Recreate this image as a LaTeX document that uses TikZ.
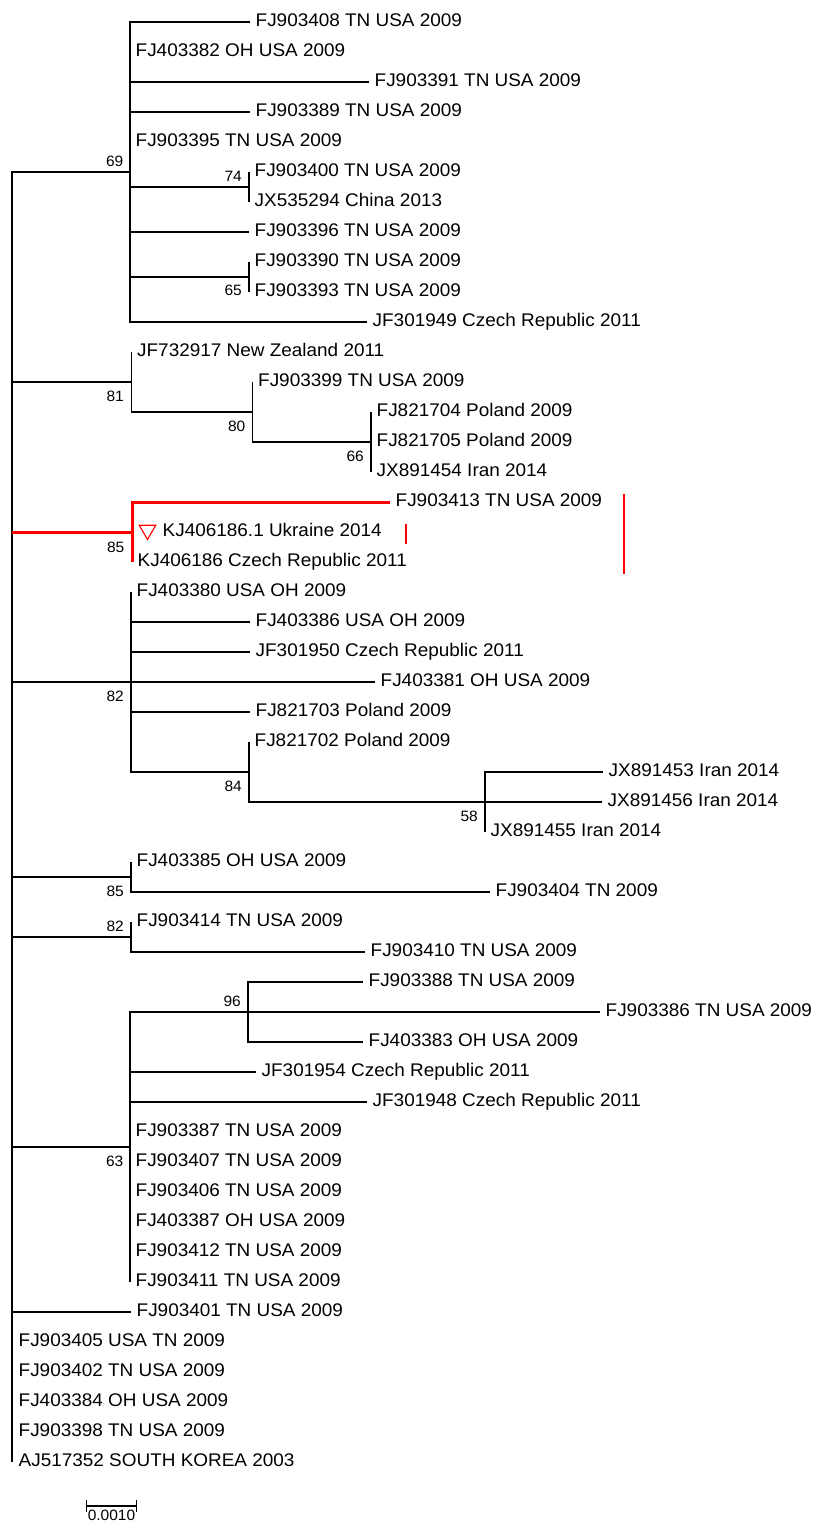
\documentclass[tikz,border=0pt]{standalone}
\usepackage{fontspec}
\setmainfont[FakeStretch=1.035]{Liberation Sans}
\usepackage{tikz}
\usetikzlibrary{shapes.geometric, arrows.meta}

\begin{document}
\begin{tikzpicture}[
        x=1pt, y=-1pt,
        taxon/.style={anchor=west, inner xsep=5.5pt, inner ysep=0pt, text height=13pt, text depth=4pt, font=\fontsize{18.3}{20}\selectfont},
        boot/.style={anchor=east, inner sep=0pt, font=\fontsize{15}{17}\selectfont},
        branch/.style={line width=1.1pt, black},
        hit/.style={line width=3pt, red},
        tick/.style={line width=1.6pt, red}
    ]
        \useasboundingbox (0,0) rectangle (812,1524);

        % Internal nodes
        \coordinate (root) at (12,817);
        \coordinate (b69) at (130,172);
        \coordinate (b74) at (249,187);
        \coordinate (b65) at (249,277);
        \coordinate (b81) at (131.5,382);
        \coordinate (b80) at (252.5,412);
        \coordinate (b66) at (371,442);
        \coordinate (b85r) at (132,532);
        \coordinate (b82) at (131,682);
        \coordinate (b84) at (249,772);
        \coordinate (b58) at (485,802);
        \coordinate (b85b) at (131,877);
        \coordinate (b82b) at (131,937);
        \coordinate (b63) at (130,1147);
        \coordinate (b96) at (248,1012);

        % Taxa
        \node[taxon] (fj903408) at (250,22) {FJ903408 TN USA 2009};
        \node[taxon] (fj403382) at (130,52) {FJ403382 OH USA 2009};
        \node[taxon] (fj903391) at (369,82) {FJ903391 TN USA 2009};
        \node[taxon] (fj903389) at (250,112) {FJ903389 TN USA 2009};
        \node[taxon] (fj903395) at (130,142) {FJ903395 TN USA 2009};
        \node[taxon] (fj903400) at (249,172) {FJ903400 TN USA 2009};
        \node[taxon] (jx535294) at (249,202) {JX535294 China 2013};
        \node[taxon] (fj903396) at (249,232) {FJ903396 TN USA 2009};
        \node[taxon] (fj903390) at (249,262) {FJ903390 TN USA 2009};
        \node[taxon] (fj903393) at (249,292) {FJ903393 TN USA 2009};
        \node[taxon] (jf301949) at (367,322) {JF301949 Czech Republic 2011};
        \node[taxon] (jf732917) at (131.5,352) {JF732917 New Zealand 2011};
        \node[taxon] (fj903399) at (252.5,382) {FJ903399 TN USA 2009};
        \node[taxon] (fj821704) at (371,412) {FJ821704 Poland 2009};
        \node[taxon] (fj821705) at (371,442) {FJ821705 Poland 2009};
        \node[taxon] (jx891454) at (371,472) {JX891454 Iran 2014};
        \node[taxon] (fj903413) at (390,502) {FJ903413 TN USA 2009};
        \node[taxon] (kj406186ua) at (157,532) {KJ406186.1 Ukraine 2014};
        \node[taxon] (kj406186cz) at (132,562) {KJ406186 Czech Republic 2011};
        \node[taxon] (fj403380) at (131,592) {FJ403380 USA OH 2009};
        \node[taxon] (fj403386) at (250,622) {FJ403386 USA OH 2009};
        \node[taxon] (jf301950) at (250,652) {JF301950 Czech Republic 2011};
        \node[taxon] (fj403381) at (375,682) {FJ403381 OH USA 2009};
        \node[taxon] (fj821703) at (250,712) {FJ821703 Poland 2009};
        \node[taxon] (fj821702) at (249,742) {FJ821702 Poland 2009};
        \node[taxon] (jx891453) at (603,772) {JX891453 Iran 2014};
        \node[taxon] (jx891456) at (602,802) {JX891456 Iran 2014};
        \node[taxon] (jx891455) at (485,832) {JX891455 Iran 2014};
        \node[taxon] (fj403385) at (131,862) {FJ403385 OH USA 2009};
        \node[taxon] (fj903404) at (490,892) {FJ903404 TN 2009};
        \node[taxon] (fj903414) at (131,922) {FJ903414 TN USA 2009};
        \node[taxon] (fj903410) at (365,952) {FJ903410 TN USA 2009};
        \node[taxon] (fj903388) at (363,982) {FJ903388 TN USA 2009};
        \node[taxon] (fj903386) at (600,1012) {FJ903386 TN USA 2009};
        \node[taxon] (fj403383) at (363,1042) {FJ403383 OH USA 2009};
        \node[taxon] (jf301954) at (256,1072) {JF301954 Czech Republic 2011};
        \node[taxon] (jf301948) at (367,1102) {JF301948 Czech Republic 2011};
        \node[taxon] (fj903387) at (130,1132) {FJ903387 TN USA 2009};
        \node[taxon] (fj903407) at (130,1162) {FJ903407 TN USA 2009};
        \node[taxon] (fj903406) at (130,1192) {FJ903406 TN USA 2009};
        \node[taxon] (fj403387) at (130,1222) {FJ403387 OH USA 2009};
        \node[taxon] (fj903412) at (130,1252) {FJ903412 TN USA 2009};
        \node[taxon] (fj903411) at (130,1282) {FJ903411 TN USA 2009};
        \node[taxon] (fj903401) at (131,1312) {FJ903401 TN USA 2009};
        \node[taxon] (fj903405) at (13,1342) {FJ903405 USA TN 2009};
        \node[taxon] (fj903402) at (13,1372) {FJ903402 TN USA 2009};
        \node[taxon] (fj403384) at (13,1402) {FJ403384 OH USA 2009};
        \node[taxon] (fj903398) at (13,1432) {FJ903398 TN USA 2009};
        \node[taxon] (aj517352) at (13,1462) {AJ517352 SOUTH KOREA 2003};

        % Bootstrap values
        \node[boot] (bs69) at (123.5,161) {69};
        \node[boot] (bs74) at (242,176) {74};
        \node[boot] (bs65) at (242,290) {65};
        \node[boot] (bs81) at (124,396) {81};
        \node[boot] (bs80) at (245.5,426) {80};
        \node[boot] (bs66) at (364,456) {66};
        \node[boot] (bs85r) at (124.5,547) {85};
        \node[boot] (bs82) at (124,696) {82};
        \node[boot] (bs84) at (242,786) {84};
        \node[boot] (bs58) at (478,816) {58};
        \node[boot] (bs85b) at (124,891) {85};
        \node[boot] (bs82b) at (124,926) {82};
        \node[boot] (bs96) at (241,1001) {96};
        \node[boot] (bs63) at (123.5,1161) {63};

        % Branches
        \draw[branch] (root) |- (b69);
        \draw[branch] (root) |- (b81);
        \draw[branch] (root) |- (b82);
        \draw[branch] (root) |- (b85b);
        \draw[branch] (root) |- (b82b);
        \draw[branch] (root) |- (b63);
        \draw[branch] (root) |- (fj903401.west);
        \draw[branch] (root) |- (aj517352.west -| root);

        \draw[branch] (b69) |- (fj903408.west);
        \draw[branch] (b69) |- (fj903391.west);
        \draw[branch] (b69) |- (fj903389.west);
        \draw[branch] (b69) |- (b74);
        \draw[branch] (b69) |- (fj903396.west);
        \draw[branch] (b69) |- (b65);
        \draw[branch] (b69) |- (jf301949.west);
        \draw[branch] (b74) |- (fj903400.west);
        \draw[branch] (b74) |- (jx535294.west);
        \draw[branch] (b65) |- (fj903390.west);
        \draw[branch] (b65) |- (fj903393.west);

        \draw[branch] (b81) |- (jf732917.west);
        \draw[branch] (b81) |- (b80);
        \draw[branch] (b80) |- (fj903399.west);
        \draw[branch] (b80) |- (b66);
        \draw[branch] (b66) |- (fj821704.west);
        \draw[branch] (b66) |- (jx891454.west);

        \draw[branch] (b82) |- (fj403380.west);
        \draw[branch] (b82) |- (fj403386.west);
        \draw[branch] (b82) |- (jf301950.west);
        \draw[branch] (b82) |- (fj403381.west);
        \draw[branch] (b82) |- (fj821703.west);
        \draw[branch] (b82) |- (b84);
        \draw[branch] (b84) |- (fj821702.west);
        \draw[branch] (b84) |- (b58);
        \draw[branch] (b58) |- (jx891453.west);
        \draw[branch] (b58) |- (jx891456.west);
        \draw[branch] (b58) |- (jx891455.west);

        \draw[branch] (b85b) |- (fj403385.west);
        \draw[branch] (b85b) |- (fj903404.west);
        \draw[branch] (b82b) |- (fj903414.west);
        \draw[branch] (b82b) |- (fj903410.west);

        \draw[branch] (b63) |- (b96);
        \draw[branch] (b63) |- (jf301954.west);
        \draw[branch] (b63) |- (jf301948.west);
        \draw[branch] (b63) |- (fj903411.west);
        \draw[branch] (b96) |- (fj903388.west);
        \draw[branch] (b96) |- (fj903386.west);
        \draw[branch] (b96) |- (fj403383.west);

        % Highlighted clade
        \draw[hit] (b85r -| root) -- (b85r);
        \draw[hit] (b85r) |- (fj903413.west);
        \draw[hit] (b85r) -- (kj406186cz.west);
        \node[regular polygon, regular polygon sides=3, shape border rotate=180, draw=red, line width=1.1pt, minimum size=19pt, inner sep=0pt] (uamark) at (147.5,530) {};
        \coordinate (markAtop) at (406,524);
        \coordinate (markAbot) at (406,544);
        \coordinate (markBtop) at (624,494);
        \coordinate (markBbot) at (624,574);
        \draw[tick] (markAtop) -- (markAbot);
        \draw[tick] (markBtop) -- (markBbot);

        % Scale bar
        \coordinate (sbl) at (86,1506);
        \coordinate (sbr) at (137,1506);
        \draw[branch, {Bar[width=12pt]}-{Bar[width=12pt]}] (sbl) -- (sbr);
        \node[anchor=north, inner sep=0pt, font=\fontsize{15}{17}\selectfont] (sblabel) at (111.5,1509.5) {0.0010};
    \end{tikzpicture}
\end{document}
